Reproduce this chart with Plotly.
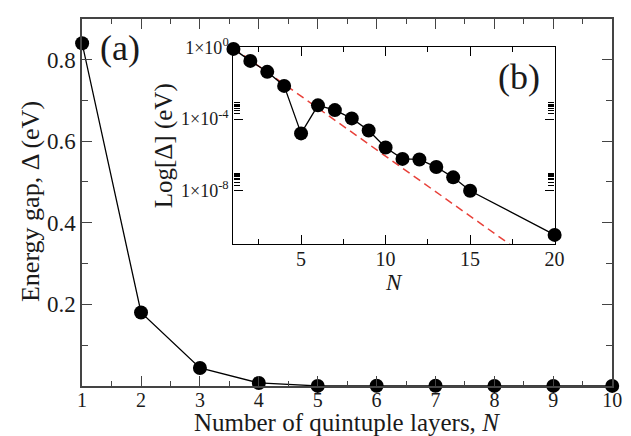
import plotly.graph_objects as go

# Data
layers_n = [1, 2, 3, 4, 5, 6, 7, 8, 9, 10, 11, 12, 13, 14, 15, 20]
gap_ev = [0.84, 0.18, 0.044, 0.0072, 1.6e-5, 5.9e-4, 3.2e-4, 1.1e-4, 2.3e-5,
          2.6e-6, 6.0e-7, 5.6e-7, 2.1e-7, 5.6e-8, 1.0e-8, 3.4e-11]
main_n = layers_n[:10]
main_gap = gap_ev[:10]
fit_n = [1, 20]
fit_gap = [0.92, 1.7e-13]

main_xticks = [1, 2, 3, 4, 5, 6, 7, 8, 9, 10]
main_yticks = [0.2, 0.4, 0.6, 0.8]
main_yticktext = ["0.2", "0.4", "0.6", "0.8"]
inset_xticks = [5, 10, 15, 20]
inset_yticks = [1, 1e-4, 1e-8]
inset_yticktext = ["1×10<sup>0</sup>", "1×10<sup>-4</sup>", "1×10<sup>-8</sup>"]

FONT = "Liberation Serif"
AX = "#444444"
TXT = "#1a1a1a"

fig = go.Figure()
fig.add_trace(go.Scatter(x=main_n, y=main_gap, mode="lines+markers",
                         line=dict(color="black", width=1.3),
                         marker=dict(color="black", size=14),
                         cliponaxis=False, xaxis="x", yaxis="y", showlegend=False))
fig.add_trace(go.Scatter(x=fit_n, y=fit_gap, mode="lines",
                         line=dict(color="#e8413a", width=1.5, dash="8px,5px"),
                         xaxis="x2", yaxis="y2", showlegend=False))
fig.add_trace(go.Scatter(x=layers_n, y=gap_ev, mode="lines+markers",
                         line=dict(color="black", width=1.3),
                         marker=dict(color="black", size=14),
                         cliponaxis=False, xaxis="x2", yaxis="y2", showlegend=False))

minor_log = [k * 1e-4 for k in range(2, 10)] + [k * 1e-8 for k in range(2, 10)]

fig.update_layout(
    width=631, height=436,
    margin=dict(l=0, r=0, t=0, b=0),
    paper_bgcolor="white", plot_bgcolor="white",
    font=dict(family=FONT, color=TXT),
    xaxis=dict(domain=[79 / 631, 622 / 631], range=[1, 10], anchor="y",
               tickvals=main_xticks, ticks="inside", ticklen=10, tickwidth=1.3,
               tickcolor=AX, showline=True, linecolor=AX, linewidth=1.5,
               mirror="ticks", showgrid=False, zeroline=False,
               ticklabelstandoff=-5,
               tickfont=dict(size=20, family=FONT, color=TXT),
               minor=dict(tickvals=[1.5, 2.5, 3.5, 4.5, 5.5, 6.5, 7.5, 8.5, 9.5],
                          ticks="inside", ticklen=5, tickcolor=AX, tickwidth=1.3)),
    yaxis=dict(domain=[1 - 384.5 / 436, 1 - 7 / 436], range=[0, 0.9], anchor="x",
               tickvals=main_yticks, ticktext=main_yticktext, ticks="inside",
               ticklen=10, tickwidth=1.3, tickcolor=AX, showline=True,
               linecolor=AX, linewidth=1.5, mirror="ticks", showgrid=False,
               zeroline=False, tickfont=dict(size=23, family=FONT, color=TXT),
               minor=dict(tickvals=[0.1, 0.3, 0.5, 0.7], ticks="inside",
                          ticklen=6, tickcolor=AX, tickwidth=1.3)),
    xaxis2=dict(domain=[234 / 631, 563 / 631], range=[1, 20], anchor="y2",
                tickvals=inset_xticks, ticks="inside", ticklen=9, tickwidth=1.3,
                tickcolor="black", showline=True, linecolor="black", linewidth=1.3,
                mirror="ticks", showgrid=False, zeroline=False,
                ticklabelstandoff=-4,
                tickfont=dict(size=20, family=FONT, color=TXT),
                minor=dict(tickvals=[2.5, 7.5, 12.5, 17.5], ticks="inside",
                           ticklen=5, tickcolor="black", tickwidth=1.3)),
    yaxis2=dict(domain=[1 - 239 / 436, 1 - 36 / 436], type="log", range=[-11, 0.03],
                anchor="x2", tickvals=inset_yticks, ticktext=inset_yticktext,
                ticks="inside", ticklen=9, tickwidth=1.3, tickcolor="black",
                showline=True, linecolor="black", linewidth=1.3, mirror="ticks",
                showgrid=False, zeroline=False,
                tickfont=dict(size=18, family=FONT, color=TXT),
                minor=dict(tickvals=minor_log, ticks="inside", ticklen=6,
                           tickcolor="black", tickwidth=1.3)),
)

annos = [
    dict(text="Number of quintuple layers, <i>N</i>", x=350 / 631, y=1 - 422 / 436,
         size=25),
    dict(text="Energy gap, Δ (eV)", x=26 / 631, y=1 - 195 / 436, size=26, angle=-90),
    dict(text="Log[Δ] (eV)", x=163 / 631, y=1 - 138 / 436, size=25, angle=-90),
    dict(text="<i>N</i>", x=398 / 631, y=1 - 278 / 436, size=23),
    dict(text="(a)", x=118 / 631, y=1 - 37 / 436, size=36),
    dict(text="(b)", x=527 / 631, y=1 - 67 / 436, size=36),
]
for a in annos:
    fig.add_annotation(text=a["text"], x=a["x"], y=a["y"], xref="paper", yref="paper",
                       showarrow=False, xanchor="center", yanchor="middle",
                       textangle=a.get("angle", 0),
                       font=dict(family=FONT, size=a["size"], color=TXT))

fig.write_html("out.html")
